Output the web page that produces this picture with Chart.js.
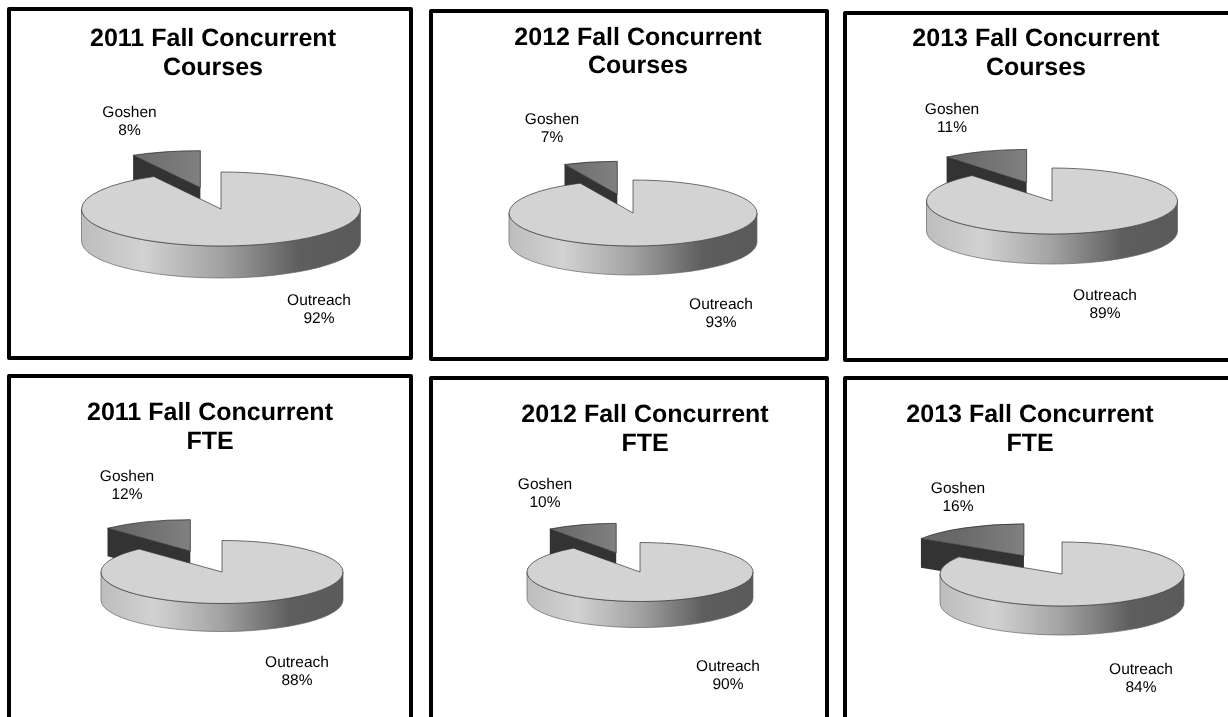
<!DOCTYPE html>
<html>
<head>
<meta charset="utf-8">
<style>
html,body{margin:0;padding:0;background:#fff;width:1228px;height:717px;overflow:hidden}
.box{position:absolute;box-sizing:border-box;border:4.5px solid #000;border-radius:2px;background:#fff}
canvas{position:absolute;display:block}
</style>
<script src="https://cdn.jsdelivr.net/npm/chart.js@4/dist/chart.umd.min.js"></script>
</head>
<body>
<script>
// ---- data ----
const categories = ['Outreach', 'Goshen'];
const titleLines = [
  ['2011 Fall Concurrent', 'Courses'],
  ['2012 Fall Concurrent', 'Courses'],
  ['2013 Fall Concurrent', 'Courses'],
  ['2011 Fall Concurrent', 'FTE'],
  ['2012 Fall Concurrent', 'FTE'],
  ['2013 Fall Concurrent', 'FTE']
];
const outreachValues = [92, 93, 89, 88, 90, 84];
const goshenValues = [8, 7, 11, 12, 10, 16];

// ---- layout (page pixels) ----
// box, title centre / first baseline / line gap, pie centre, radius, flat radius, wall depth, explosion, label centres
const layout = [
  {b:[7,7,406,353],   t:[213,48,29],  p:[221,209], R:139.5, ry:37,   d:32, e:83, g:[129.5,113], o:[319,301]},
  {b:[429,9,400,352], t:[638,47,28],  p:[633,213], R:124,   ry:33,   d:29, e:72, g:[552,120],   o:[721,305]},
  {b:[843,11,400,351],t:[1036,48,29], p:[1052,201],R:125.5, ry:33,   d:30, e:75, g:[952,110],   o:[1105,296]},
  {b:[7,374,406,360], t:[210,422,29], p:[222,572], R:121,   ry:31.5, d:28, e:86, g:[127,477],   o:[297,663]},
  {b:[429,376,400,360],t:[645,424,29],p:[640,572], R:113,   ry:29.5, d:26, e:77, g:[545,485],   o:[728,667]},
  {b:[843,376,400,360],t:[1030,424,29],p:[1062,574],R:122,  ry:32,   d:29, e:79, g:[958,489],   o:[1141,670]}
];

const FONT = '"Liberation Sans", Arial, sans-serif';
const TITLE_SIZE = 25, LABEL_SIZE = 15.5, LABEL_GAP = 18;

function makePiePlugin(g, values) {
  return {
    id: 'pie3d',
    beforeDraw(chart) {
      chart.ctx.textRendering = 'geometricPrecision';
    },
    beforeDatasetsDraw(chart) {
      const ctx = chart.ctx;
      const arcs = chart.getDatasetMeta(0).data;
      const main = arcs[0], slice = arcs[1];
      const ox = g.b[0], oy = g.b[1];
      const cx = g.p[0] - ox, cy = g.p[1] - oy;
      const R = main.outerRadius, k = g.ry / R, ry = g.ry, d = g.d;

      // exploded slice
      const half = (slice.startAngle + slice.endAngle) / 2;
      const sx = cx + Math.cos(half) * g.e;
      const sy = cy + Math.sin(half) * g.e * k;
      const tipX = sx + Math.cos(slice.startAngle) * R;
      const tipY = sy + Math.sin(slice.startAngle) * ry;
      ctx.save();
      ctx.beginPath();
      ctx.moveTo(sx, sy);
      ctx.lineTo(tipX, tipY);
      ctx.lineTo(tipX, tipY + d);
      ctx.lineTo(sx, sy + d);
      ctx.closePath();
      ctx.fillStyle = '#333333';
      ctx.fill();
      ctx.restore();
      drawTop(ctx, slice, sx, sy, k);
      outline(ctx, sx, sy, R, ry, slice.startAngle, slice.endAngle, '#222');

      // main wall
      ctx.save();
      const grad = ctx.createLinearGradient(cx - R, 0, cx + R, 0);
      grad.addColorStop(0, '#bdbdbd');
      grad.addColorStop(0.22, '#d2d2d2');
      grad.addColorStop(0.5, '#a2a2a2');
      grad.addColorStop(0.78, '#5e5e5e');
      grad.addColorStop(1, '#5a5a5a');
      ctx.beginPath();
      ctx.ellipse(cx, cy, R, ry, 0, 0, Math.PI);
      ctx.ellipse(cx, cy + d, R, ry, 0, Math.PI, 0, true);
      ctx.closePath();
      ctx.fillStyle = grad;
      ctx.fill();
      ctx.strokeStyle = '#666';
      ctx.lineWidth = 0.7;
      ctx.stroke();
      ctx.restore();

      // main top
      drawTop(ctx, main, cx, cy, k);
      outline(ctx, cx, cy, R, ry, main.startAngle, main.endAngle, '#333');
      return false;
    },
    afterDraw(chart) {
      const ctx = chart.ctx;
      ctx.save();
      ctx.font = LABEL_SIZE + 'px ' + FONT;
      ctx.fillStyle = '#000';
      ctx.textAlign = 'center';
      ctx.textBaseline = 'middle';
      const put = (pos, name, val) => {
        ctx.fillText(name, pos[0] - g.b[0], pos[1] - g.b[1]);
        ctx.fillText(val + '%', pos[0] - g.b[0], pos[1] - g.b[1] + LABEL_GAP);
      };
      put(g.o, categories[0], values[0]);
      put(g.g, categories[1], values[1]);
      ctx.restore();
    }
  };
}
function drawTop(ctx, arc, px, py, k) {
  ctx.save();
  ctx.translate(px, py);
  ctx.scale(1, k);
  ctx.translate(-arc.x, -arc.y);
  arc.draw(ctx);
  ctx.restore();
}
function outline(ctx, px, py, R, ry, a0, a1, color) {
  ctx.save();
  ctx.beginPath();
  ctx.moveTo(px, py);
  ctx.ellipse(px, py, R, ry, 0, a0, a1);
  ctx.closePath();
  ctx.strokeStyle = color;
  ctx.lineWidth = 0.7;
  ctx.stroke();
  ctx.restore();
}

layout.forEach((g, i) => {
  const box = document.createElement('div');
  box.className = 'box';
  box.style.cssText = `left:${g.b[0]}px;top:${g.b[1]}px;width:${g.b[2]}px;height:${g.b[3]}px`;
  document.body.appendChild(box);
  const bw = 4;
  const canvas = document.createElement('canvas');
  canvas.width = g.b[2];
  canvas.height = g.b[3];
  canvas.style.cssText = `left:${-bw}px;top:${-bw}px;width:${g.b[2]}px;height:${g.b[3]}px`;
  box.appendChild(canvas);

  const W = g.b[2];
  const tc = g.t[0] - g.b[0];
  const padLeft = Math.max(0, 2 * tc - W);
  const padRight = Math.max(0, W - 2 * tc);
  const lh = g.t[2];
  const topPad = (g.t[1] - g.b[1]) - TITLE_SIZE * 0.35 - lh / 2;
  const values = [outreachValues[i], goshenValues[i]];

  new Chart(canvas, {
    type: 'pie',
    data: {
      labels: categories,
      datasets: [{
        data: values,
        borderWidth: 0,
        backgroundColor: (c) => {
          if (c.dataIndex === 0) return '#d3d3d3';
          const a = c.chart.chartArea;
          if (!a) return '#777777';
          const x = (a.left + a.right) / 2;
          const gr = c.chart.ctx.createLinearGradient(x - g.R * 0.55, 0, x, 0);
          gr.addColorStop(0, '#686868');
          gr.addColorStop(1, '#808080');
          return gr;
        }
      }]
    },
    options: {
      responsive: false,
      animation: false,
      events: [],
      radius: g.R,
      rotation: 0,
      layout: { padding: { left: padLeft, right: padRight, top: 0, bottom: 0 } },
      plugins: {
        legend: { display: false },
        tooltip: { enabled: false },
        title: {
          display: true,
          text: titleLines[i],
          color: '#000',
          font: { family: FONT, size: TITLE_SIZE, weight: 'bold', lineHeight: lh / TITLE_SIZE },
          padding: { top: topPad, bottom: 0 }
        }
      }
    },
    plugins: [makePiePlugin(g, values)]
  });
});
</script>
</body>
</html>
